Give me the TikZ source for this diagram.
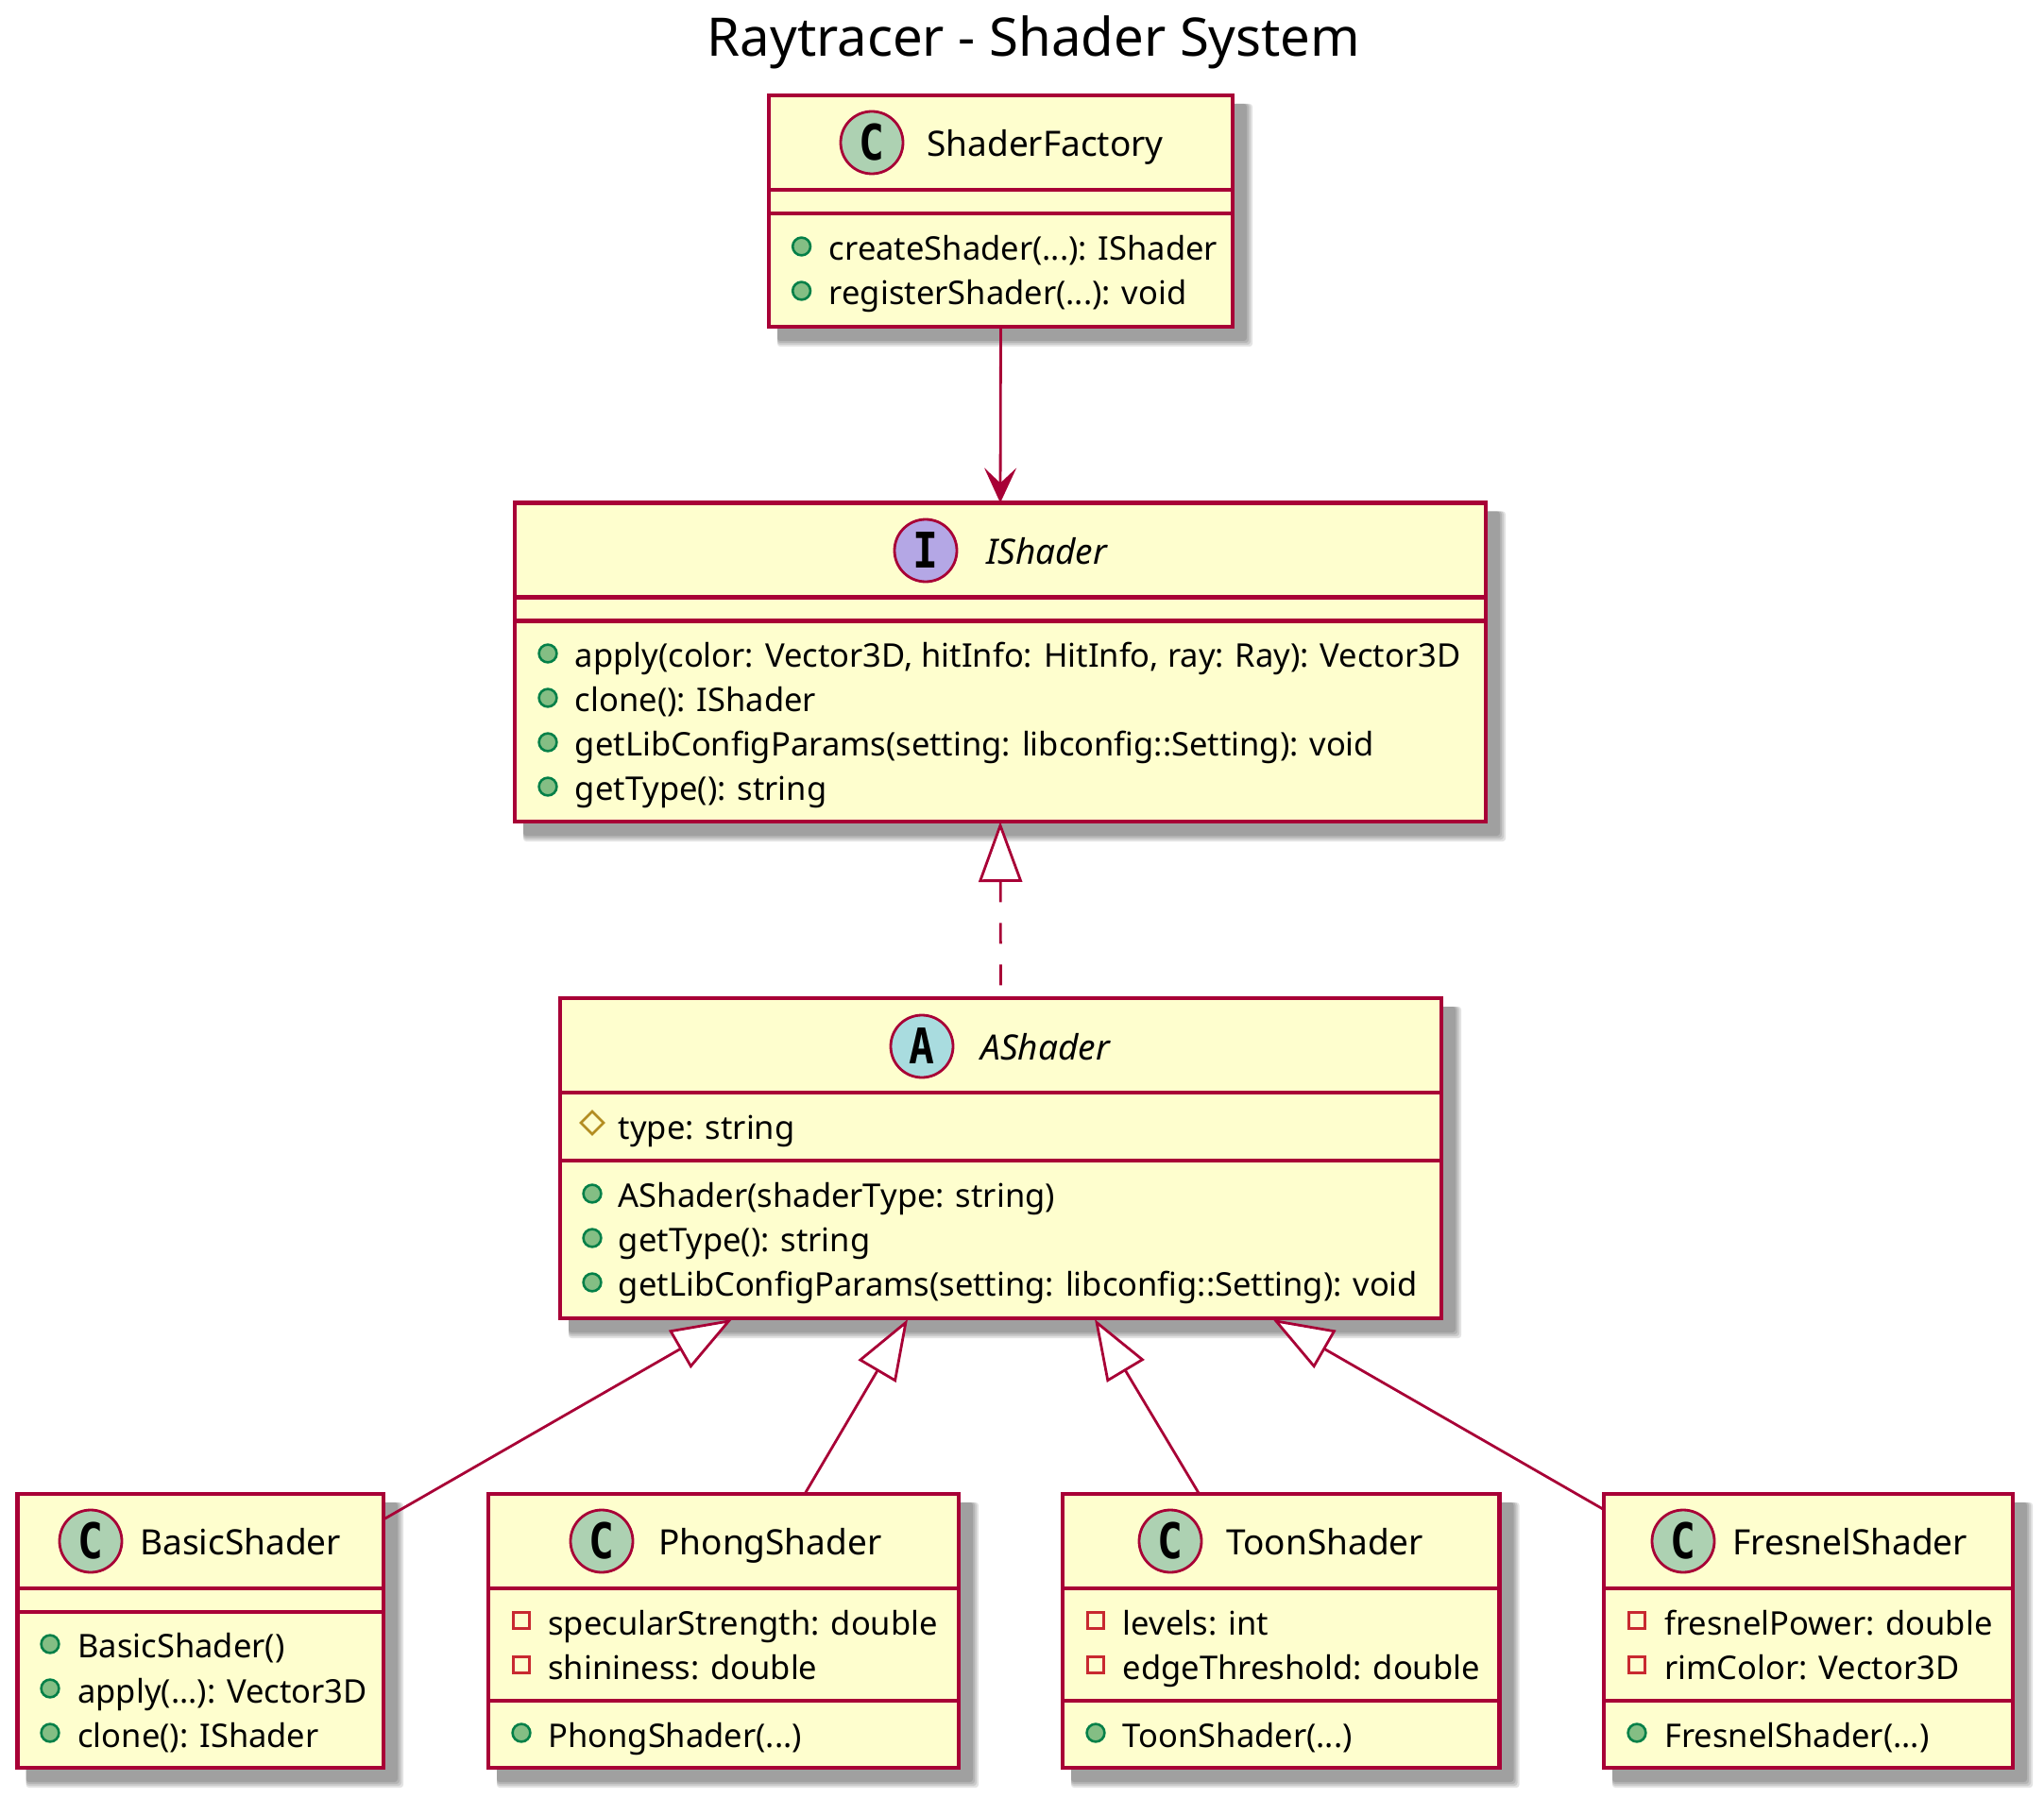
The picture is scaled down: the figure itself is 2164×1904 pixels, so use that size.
\documentclass[tikz,border=0pt]{standalone}
\usepackage{fontspec}
\usepackage{xcolor}
\setmainfont{Noto Sans}
\newfontfamily\spotfont{DejaVu Sans Mono}[FakeStretch=0.86]
\usetikzlibrary{arrows.meta,calc,backgrounds,shapes.geometric}
\definecolor{umlline}{HTML}{A80036}
\definecolor{umlfill}{HTML}{FEFECE}
\definecolor{spotclass}{HTML}{ADD1B2}
\definecolor{spotabstract}{HTML}{A9DCDF}
\definecolor{spotinterface}{HTML}{B4A7E5}
\definecolor{pubfill}{HTML}{84BE84}
\definecolor{publine}{HTML}{038048}
\definecolor{privline}{HTML}{C82930}
\definecolor{protline}{HTML}{B38D22}
\tikzset{
  classbox/.style={draw=umlline,fill=umlfill,line width=2.3pt,inner sep=0pt,outer sep=0pt},
  sepline/.style={draw=umlline,line width=2.2pt},
  spot/.style={circle,draw=umlline,line width=1.4pt,minimum size=33pt,inner sep=0pt,font=\spotfont\bfseries\fontsize{26}{26}\selectfont},
  pubdot/.style={circle,draw=publine,fill=pubfill,line width=1.3pt,minimum size=9.4pt,inner sep=0pt},
  privbox/.style={rectangle,draw=privline,line width=1.3pt,minimum size=8.5pt,inner sep=0pt},
  protmark/.style={diamond,aspect=1,draw=protline,line width=1.3pt,minimum size=12.5pt,inner sep=0pt},
  labeltext/.style={anchor=base west,inner sep=0pt,font=\fontsize{17.25}{20}\selectfont},
  nametext/.style={labeltext,font=\fontsize{18.5}{22}\selectfont},
  abstext/.style={labeltext,font=\itshape\fontsize{18.5}{22}\selectfont},
  link/.style={draw=umlline,line width=1.4pt},
  uses/.style={link,-{Stealth[length=18.5pt,width=17pt,inset=8pt]}},
  extends/.style={link,{Triangle[open,fill=white,length=32pt,width=23pt]}-},
  shadowlayer/.style={fill=black,fill opacity=0.11,rounded corners=1.5pt}
}
\begin{document}
\begin{tikzpicture}[x=0.5pt,y=-0.5pt,line join=miter]
  \useasboundingbox (0,0) rectangle (2164,1904);
  \node[anchor=base,inner sep=0pt,font=\fontsize{28.15}{34}\selectfont] (title) at (1094.5,60) {Raytracer - Shader System};

  \node[classbox,minimum width=245.5pt,minimum height=122.5pt] (SF) at (1059.5,223.5) {};
  \node[classbox,minimum width=514pt,minimum height=168.75pt] (IS) at (1059,701.25) {};
  \node[classbox,minimum width=466.5pt,minimum height=169.5pt] (AS) at (1059.5,1226.5) {};
  \node[classbox,minimum width=193.7pt,minimum height=145pt] (BS) at (212.3,1727) {};
  \node[classbox,minimum width=249pt,minimum height=145pt] (PS) at (766,1727) {};
  \node[classbox,minimum width=231.25pt,minimum height=145pt] (TS) at (1356.25,1727) {};
  \node[classbox,minimum width=216.5pt,minimum height=145pt] (FS) at (1914.5,1727) {};

  \draw[sepline] (SF.west |- 0,201) -- (SF.east |- 0,201);
  \draw[sepline] (SF.west |- 0,226) -- (SF.east |- 0,226);
  \draw[sepline] (IS.west |- 0,632.5) -- (IS.east |- 0,632.5);
  \draw[sepline] (IS.west |- 0,657.5) -- (IS.east |- 0,657.5);
  \draw[sepline] (AS.west |- 0,1157) -- (AS.east |- 0,1157);
  \draw[sepline] (AS.west |- 0,1229) -- (AS.east |- 0,1229);
  \draw[sepline] (BS.west |- 0,1682) -- (BS.east |- 0,1682);
  \draw[sepline] (BS.west |- 0,1707) -- (BS.east |- 0,1707);
  \draw[sepline] (PS.west |- 0,1682) -- (PS.east |- 0,1682);
  \draw[sepline] (PS.west |- 0,1801) -- (PS.east |- 0,1801);
  \draw[sepline] (TS.west |- 0,1682) -- (TS.east |- 0,1682);
  \draw[sepline] (TS.west |- 0,1801) -- (TS.east |- 0,1801);
  \draw[sepline] (FS.west |- 0,1682) -- (FS.east |- 0,1682);
  \draw[sepline] (FS.west |- 0,1801) -- (FS.east |- 0,1801);

  \node[spot,fill=spotclass] (SFspot) at (923,151) {C};
  \node[nametext] (SFname) at (981,166) {ShaderFactory};
  \node[pubdot] (SFm1) at (848.6,261) {};
  \node[labeltext] (SFt1) at (877.5,276) {createShader(...): IShader};
  \node[pubdot] (SFm2) at (848.6,308) {};
  \node[labeltext] (SFt2) at (877.5,323) {registerShader(...): void};

  \node[spot,fill=spotinterface] (ISspot) at (980,583) {I};
  \node[abstext] (ISname) at (1044,597.5) {IShader};
  \node[pubdot] (ISm1) at (580,692) {};
  \node[labeltext] (ISt1) at (608.5,706) {apply(color: Vector3D, hitInfo: HitInfo, ray: Ray): Vector3D};
  \node[pubdot] (ISm2) at (580,739) {};
  \node[labeltext] (ISt2) at (608.5,753) {clone(): IShader};
  \node[pubdot] (ISm3) at (580,786) {};
  \node[labeltext] (ISt3) at (608.5,800) {getLibConfigParams(setting: libconfig::Setting): void};
  \node[pubdot] (ISm4) at (580,833) {};
  \node[labeltext] (ISt4) at (608.5,847) {getType(): string};

  \node[spot,fill=spotabstract] (ASspot) at (976,1108) {A};
  \node[abstext] (ASname) at (1038,1122) {AShader};
  \node[protmark] (ASf1) at (627,1189) {};
  \node[labeltext] (ASt1) at (654.5,1206.5) {type: string};
  \node[pubdot] (ASm1) at (627,1264) {};
  \node[labeltext] (ASt2) at (654.5,1278) {AShader(shaderType: string)};
  \node[pubdot] (ASm2) at (627,1311) {};
  \node[labeltext] (ASt3) at (654.5,1325) {getType(): string};
  \node[pubdot] (ASm3) at (627,1358) {};
  \node[labeltext] (ASt4) at (654.5,1372) {getLibConfigParams(setting: libconfig::Setting): void};

  \node[spot,fill=spotclass] (BSspot) at (96,1632) {C};
  \node[nametext] (BSname) at (148,1646) {BasicShader};
  \node[pubdot] (BSm1) at (53,1741) {};
  \node[labeltext] (BSt1) at (82,1755.5) {BasicShader()};
  \node[pubdot] (BSm2) at (53,1788) {};
  \node[labeltext] (BSt2) at (82,1803) {apply(...): Vector3D};
  \node[pubdot] (BSm3) at (53,1835) {};
  \node[labeltext] (BSt3) at (82,1850) {clone(): IShader};

  \node[spot,fill=spotclass] (PSspot) at (637,1632) {C};
  \node[nametext] (PSname) at (697,1646) {PhongShader};
  \node[privbox] (PSf1) at (552,1716) {};
  \node[labeltext] (PSt1) at (580,1731.5) {specularStrength: double};
  \node[privbox] (PSf2) at (552,1763) {};
  \node[labeltext] (PSt2) at (580,1778) {shininess: double};
  \node[pubdot] (PSm1) at (552,1835) {};
  \node[labeltext] (PSt3) at (580,1850) {PhongShader(...)};

  \node[spot,fill=spotclass] (TSspot) at (1239,1632) {C};
  \node[nametext] (TSname) at (1298,1646) {ToonShader};
  \node[privbox] (TSf1) at (1160,1716) {};
  \node[labeltext] (TSt1) at (1188.5,1731.5) {levels: int};
  \node[privbox] (TSf2) at (1160,1763) {};
  \node[labeltext] (TSt2) at (1188.5,1778) {edgeThreshold: double};
  \node[pubdot] (TSm1) at (1160,1835) {};
  \node[labeltext] (TSt3) at (1188.5,1850) {ToonShader(...)};

  \node[spot,fill=spotclass] (FSspot) at (1782,1632) {C};
  \node[nametext] (FSname) at (1834,1646) {FresnelShader};
  \node[privbox] (FSf1) at (1733,1716) {};
  \node[labeltext] (FSt1) at (1762,1731.5) {fresnelPower: double};
  \node[privbox] (FSf2) at (1733,1763) {};
  \node[labeltext] (FSt2) at (1762,1778) {rimColor: Vector3D};
  \node[pubdot] (FSm1) at (1733,1835) {};
  \node[labeltext] (FSt3) at (1762,1850) {FresnelShader(...)};

  \coordinate (ASb1) at (775,1397);
  \coordinate (ASb2) at (961,1397);
  \coordinate (ASb3) at (1159,1397);
  \coordinate (ASb4) at (1347.5,1397);
  \coordinate (BSe) at (406,1609);
  \coordinate (PSe) at (852,1582);
  \coordinate (TSe) at (1269.6,1582);
  \coordinate (FSe) at (1697,1598);
  \draw[uses] (SF.south) -- (IS.north);
  \draw[extends,dash pattern=on 11pt off 11pt] (IS.south) -- (AS.north);
  \draw[extends] (ASb1) -- (BSe);
  \draw[extends] (ASb2) -- (PSe);
  \draw[extends] (ASb3) -- (TSe);
  \draw[extends] (ASb4) -- (FSe);

  \begin{scope}[on background layer]
    \foreach \nd in {SF,IS,AS,BS,PS,TS,FS}
      \foreach \sd in {15,17,19,21}
        \fill[shadowlayer] ($(\nd.north west)+(9,9)$) rectangle ($(\nd.south east)+(\sd,\sd)$);
  \end{scope}
\end{tikzpicture}
\end{document}
